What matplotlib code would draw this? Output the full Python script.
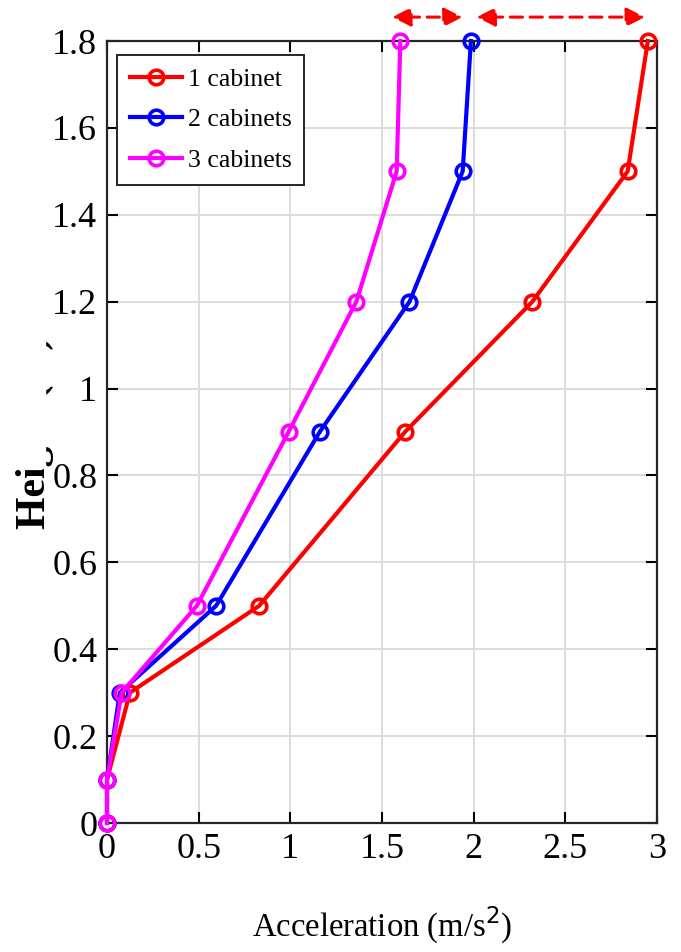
import matplotlib
matplotlib.use("Agg")
import matplotlib.pyplot as plt
from matplotlib.patches import Rectangle

heights = [0, 0.1, 0.3, 0.5, 0.9, 1.2, 1.5, 1.8]
acc_1 = [0, 0, 0.125, 0.83, 1.625, 2.32, 2.84, 2.95]
acc_2 = [0, 0, 0.07, 0.595, 1.16, 1.65, 1.94, 1.985]
acc_3 = [0, 0, 0.08, 0.49, 0.99, 1.36, 1.58, 1.60]
labels = ["1 cabinet", "2 cabinets", "3 cabinets"]
colors = ["#ff0000", "#0000ff", "#ff00ff"]
xticks = [0, 0.5, 1, 1.5, 2, 2.5, 3]
yticks = [0, 0.2, 0.4, 0.6, 0.8, 1, 1.2, 1.4, 1.6, 1.8]
arrow_y = 1.855
arrow_spans = [(1.555, 1.94), (2.015, 2.935)]

plt.rcParams['font.family'] = ['Liberation Serif', 'DejaVu Serif']
fig = plt.figure(figsize=(6.81, 9.52), dpi=100)
ax = fig.add_axes([107/681, 1-823/952, 550/681, 782/952])

for acc, lab, c in zip([acc_1, acc_2, acc_3], labels, colors):
    ax.plot(acc, heights, '-o', color=c, lw=3.0, ms=10.5, mfc='none', mew=2.6, label=lab,
            clip_on=False, zorder=3)

ax.set_xlim(0, 3)
ax.set_ylim(0, 1.8)
ax.set_xticks(xticks)
ax.set_xticklabels([f"{t:g}" for t in xticks])
ax.set_yticks(yticks)
ax.set_yticklabels([f"{t:g}" for t in yticks])
ax.grid(True, color='#dcdcdc', lw=1.4)
ax.set_axisbelow(True)
ax.tick_params(direction='in', length=8, width=1.5, top=True, right=True, labelsize=26, pad=7)
for s in ax.spines.values():
    s.set_linewidth(1.6)
    s.set_color('#262626')

ax.set_xlabel("Acceleration (m/s$^2$)", fontsize=23.5, labelpad=28)
ax.set_ylabel("Height (m)", fontsize=30, fontweight='bold', labelpad=-1)

leg = ax.legend(loc='upper left', fontsize=18.5, frameon=True, fancybox=False,
                edgecolor='#262626', framealpha=1, handlelength=2.05,
                borderpad=0.5, labelspacing=0.68, handletextpad=0.2,
                bbox_to_anchor=(0.018, 0.982), borderaxespad=0)
leg.get_frame().set_linewidth(1.4)

for x0, x1 in arrow_spans:
    ax.annotate('', xy=(x0, arrow_y), xytext=(x1, arrow_y),
                arrowprops=dict(arrowstyle='<|-|>,head_length=0.7,head_width=0.35', color='red', lw=2.2,
                                ls=(0, (4, 2.5)), mutation_scale=16, shrinkA=0, shrinkB=0),
                annotation_clip=False)

# white patch covering part of the y-label, as in the reference
fig.patches.append(Rectangle((0, 1-468/952), 45/681, 160/952,
                             transform=fig.transFigure, color='white', zorder=10))

fig.savefig("out.png", dpi=100)
